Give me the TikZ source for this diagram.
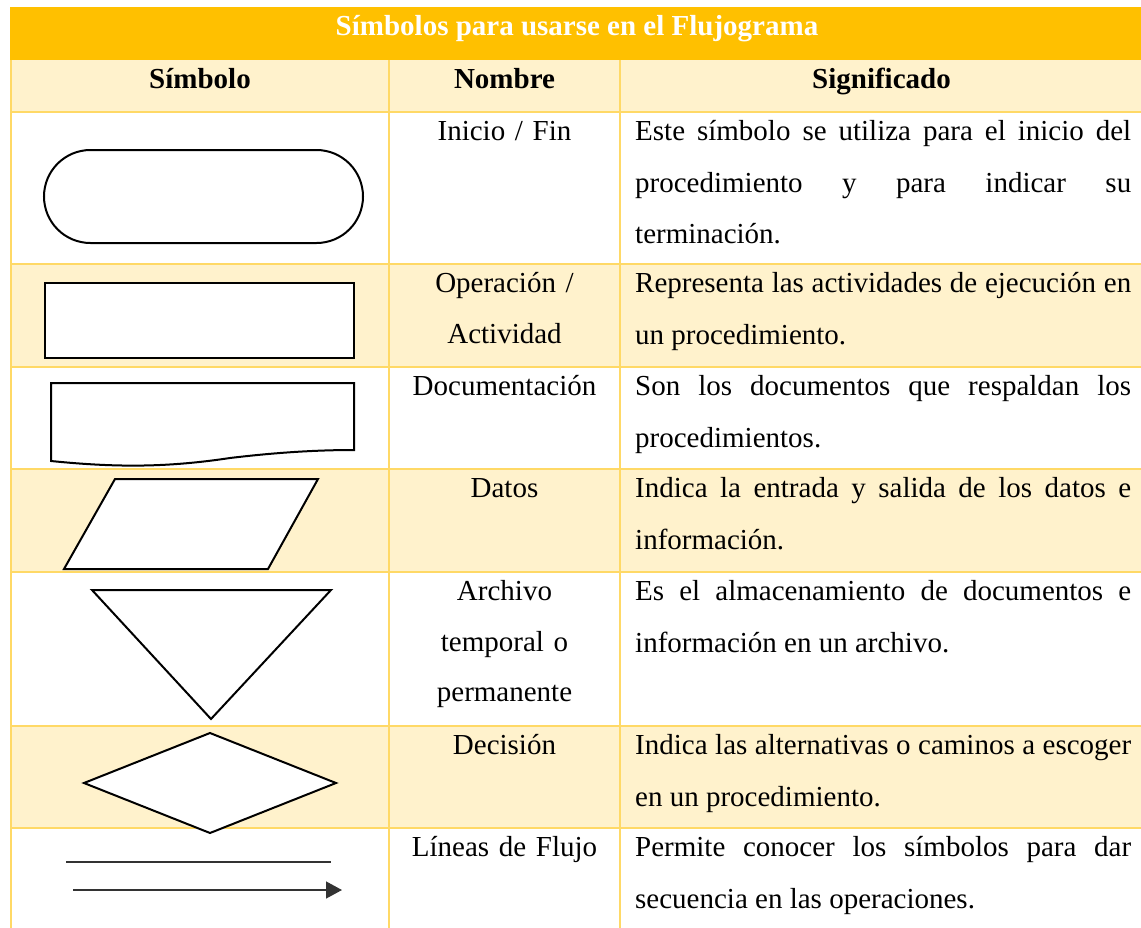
\documentclass[tikz,border=0pt]{standalone}
\usepackage{fontspec}
\setmainfont{Liberation Serif}
\usetikzlibrary{arrows.meta}
\definecolor{hdr}{HTML}{FFC000}
\definecolor{band}{HTML}{FFF2CC}
\definecolor{gridc}{HTML}{FFD966}
\newcommand\firstbase{\rule{0pt}{28.5pt}}
\begin{document}
\begin{tikzpicture}[x=1pt,y=-1pt,
  sym/.style={draw=black,line width=2pt,fill=white,line join=miter},
  gridline/.style={draw=gridc,line width=1.6pt},
  namecell/.style={inner sep=0pt,anchor=north,text width=225pt,align=center,font=\fontsize{29}{50.5}\selectfont},
  desccell/.style={inner sep=0pt,anchor=north west,text width=496pt,align=justify,font=\fontsize{29}{51.5}\selectfont},
  headcell/.style={inner sep=0pt,anchor=north,font=\fontsize{29}{51}\selectfont\bfseries},
  flow/.style={draw=black!80,line width=1.4pt}]
\useasboundingbox (0,0) rectangle (1141,927);
\clip (0,0) rectangle (1141,927);
% fills
\fill[hdr] (10,7) rectangle (1143,60);
\fill[band] (11,60) rectangle (1143,112);
\fill[band] (11,264) rectangle (1143,367);
\fill[band] (11,469) rectangle (1143,572);
\fill[band] (11,726) rectangle (1143,828);
% grid
\foreach \y in {112,264,367,469,572,726,828} \draw[gridline] (11,\y) -- (1143,\y);
\foreach \x in {11,389,620,1143} \draw[gridline] (\x,60) -- (\x,940);
% header
\node[headcell,text=white] (title) at (577,7) {\firstbase Símbolos para usarse en el Flujograma};
\node[headcell] (hsym) at (200,60) {\firstbase Símbolo};
\node[headcell] (hnom) at (504.5,60) {\firstbase Nombre};
\node[headcell] (hsig) at (881.5,60) {\firstbase Significado};
% symbols
\draw[sym,rounded corners=46.5pt] (44,150) rectangle (363,243);
\draw[sym] (45,283) rectangle (354,358);
\draw[sym] (51,383) -- (354,383) -- (354,450) .. controls (320,450) and (280,452) .. (230,458) .. controls (170,467) and (120,468) .. (51,461) -- cycle;
\draw[sym] (115,479) -- (318,479) -- (268,569) -- (64,569) -- cycle;
\draw[sym] (92,590) -- (331,590) -- (211,719) -- cycle;
\draw[sym] (210,733) -- (336,783) -- (210,833) -- (84,783) -- cycle;
\coordinate (l1a) at (66,862);
\coordinate (l1b) at (331,862);
\coordinate (l2a) at (73,890);
\coordinate (l2b) at (342,890);
\draw[flow] (l1a) -- (l1b);
\draw[flow,-{Triangle[length=16pt,width=17pt]}] (l2a) -- (l2b);
% names
\node[namecell] (n1) at (504.5,112) {\firstbase Inicio / Fin};
\node[namecell] (n2) at (504.5,264) {\firstbase Operación /\\Actividad};
\node[namecell] (n3) at (504.5,367) {\firstbase Documentación};
\node[namecell] (n4) at (504.5,469) {\firstbase Datos};
\node[namecell] (n5) at (504.5,572) {\firstbase Archivo\\temporal o\\permanente};
\node[namecell] (n6) at (504.5,726) {\firstbase Decisión};
\node[namecell] (n7) at (504.5,828) {\firstbase Líneas de Flujo};
% descriptions
\node[desccell] (d1) at (635,112) {\firstbase Este símbolo se utiliza para el inicio del\linebreak procedimiento y para indicar su\linebreak terminación.};
\node[desccell] (d2) at (635,264) {\firstbase Representa las actividades de ejecución en\linebreak un procedimiento.};
\node[desccell] (d3) at (635,367) {\firstbase Son los documentos que respaldan los\linebreak procedimientos.};
\node[desccell] (d4) at (635,469) {\firstbase Indica la entrada y salida de los datos e\linebreak información.};
\node[desccell] (d5) at (635,572) {\firstbase Es el almacenamiento de documentos e\linebreak información en un archivo.};
\node[desccell] (d6) at (635,726) {\firstbase Indica las alternativas o caminos a escoger\linebreak en un procedimiento.};
\node[desccell] (d7) at (635,828) {\firstbase Permite conocer los símbolos para dar\linebreak secuencia en las operaciones.};
\end{tikzpicture}
\end{document}
